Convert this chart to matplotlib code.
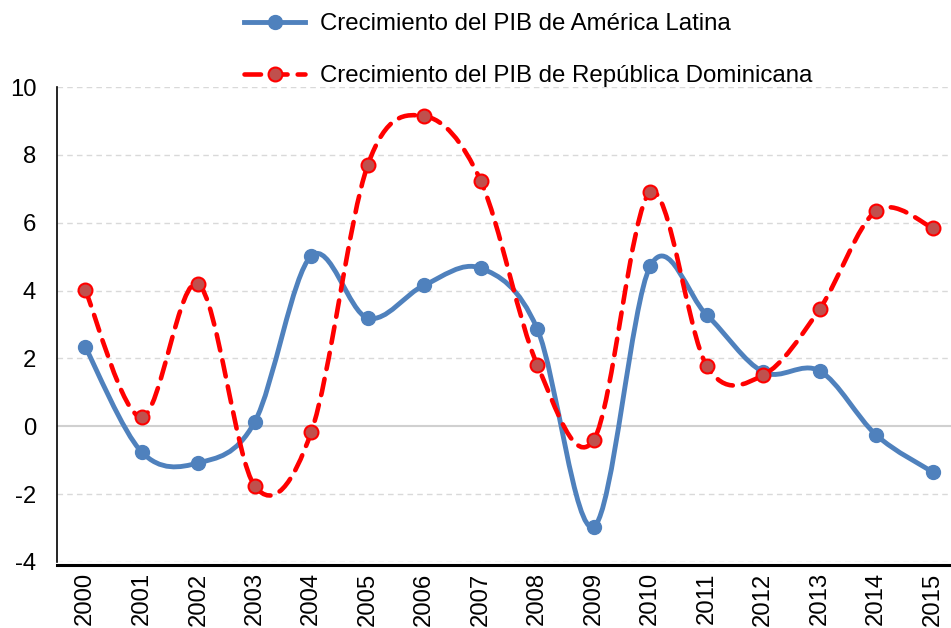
import matplotlib
matplotlib.use("Agg")
import matplotlib.pyplot as plt
from matplotlib.path import Path
from matplotlib.patches import PathPatch
from matplotlib.lines import Line2D
import numpy as np

years = ["2000", "2001", "2002", "2003", "2004", "2005", "2006", "2007",
         "2008", "2009", "2010", "2011", "2012", "2013", "2014", "2015"]
latam = [2.34, -0.76, -1.08, 0.13, 5.02, 3.19, 4.16, 4.66,
         2.87, -2.96, 4.72, 3.28, 1.60, 1.63, -0.26, -1.35]
rd = [4.02, 0.27, 4.19, -1.76, -0.17, 7.70, 9.14, 7.23,
      1.81, -0.40, 6.90, 1.78, 1.51, 3.46, 6.35, 5.85]

label_latam = "Crecimiento del PIB de América Latina"
label_rd = "Crecimiento del PIB de República Dominicana"

plt.rcParams['font.family'] = ['Liberation Sans', 'DejaVu Sans']
plt.rcParams['axes.unicode_minus'] = False

BLUE = "#4F81BD"
RED = "#FF0000"
RED_FILL = "#C0504D"
FS = 17.2
FS_LEG = 17.3

W, H = 951, 628
fig = plt.figure(figsize=(W / 100, H / 100), dpi=100)
ax = fig.add_axes([57 / W, 1 - 562 / H, (961 - 57) / W, (562 - 87) / H])


def smooth_path(xs, ys):
    pts = np.column_stack([xs, ys]).astype(float)
    n = len(pts)
    verts = [pts[0]]
    codes = [Path.MOVETO]
    for i in range(n - 1):
        p0 = pts[i - 1] if i > 0 else pts[i]
        p1 = pts[i]
        p2 = pts[i + 1]
        p3 = pts[i + 2] if i + 2 < n else pts[i + 1]
        c1 = p1 + (p2 - p0) / 6.0
        c2 = p2 - (p3 - p1) / 6.0
        verts += [c1, c2, p2]
        codes += [Path.CURVE4] * 3
    return Path(verts, codes)


x = np.arange(len(years))

for s in ['top', 'right']:
    ax.spines[s].set_visible(False)
ax.spines['bottom'].set_position(('data', -4.1))
ax.spines['left'].set_color('black')
ax.spines['left'].set_linewidth(1.2)
ax.spines['bottom'].set_color('black')
ax.spines['bottom'].set_linewidth(2.2)

ax.set_ylim(-4, 10)
ax.set_xlim(-0.5, len(years) - 0.5)
ax.set_yticks(range(-4, 11, 2))
for yv in range(-4, 11, 2):
    if yv == 0:
        ax.axhline(yv, color="#D0D0D0", lw=1.5, zorder=1)
    else:
        ax.axhline(yv, color="#D9D9D9", lw=1.0, ls=(0, (4, 3)), zorder=1)

# LatAm smooth line
ax.add_patch(PathPatch(smooth_path(x, latam), fill=False, edgecolor=BLUE,
                       lw=3.5, capstyle='round', joinstyle='round', zorder=3))
ax.plot(x, latam, ls='none', marker='o', ms=10, mfc=BLUE, mec=BLUE, zorder=4)

# RD smooth dashed line
ax.add_patch(PathPatch(smooth_path(x, rd), fill=False, edgecolor=RED,
                       lw=3.3, ls=(0, (3.6, 2.2)), capstyle='round', zorder=5))
ax.plot(x, rd, ls='none', marker='o', ms=10, mfc=RED_FILL, mec=RED, mew=1.5, zorder=6)

ax.set_xticks(x)
ax.set_xticklabels(years, rotation=90, fontsize=FS, va='top')
ax.tick_params(axis='x', length=0, pad=5)
ax.tick_params(axis='y', length=0, pad=15, labelsize=FS)

handles = [
    Line2D([], [], color=BLUE, lw=3.5, marker='o', ms=10, mfc=BLUE, mec=BLUE),
    Line2D([], [], color=RED, lw=3.3, ls=(0, (3.6, 2.2)), marker='o', ms=10,
           mfc=RED_FILL, mec=RED, mew=1.5, dash_capstyle='round'),
]
fig.legend(handles, [label_latam, label_rd], loc='upper left',
           bbox_to_anchor=(244 / W, 1 - 13 / H), frameon=False, fontsize=FS_LEG,
           handlelength=2.55, handletextpad=0.62, labelspacing=1.25, numpoints=1,
           borderaxespad=0, borderpad=0)

fig.savefig("out.png", dpi=100)
